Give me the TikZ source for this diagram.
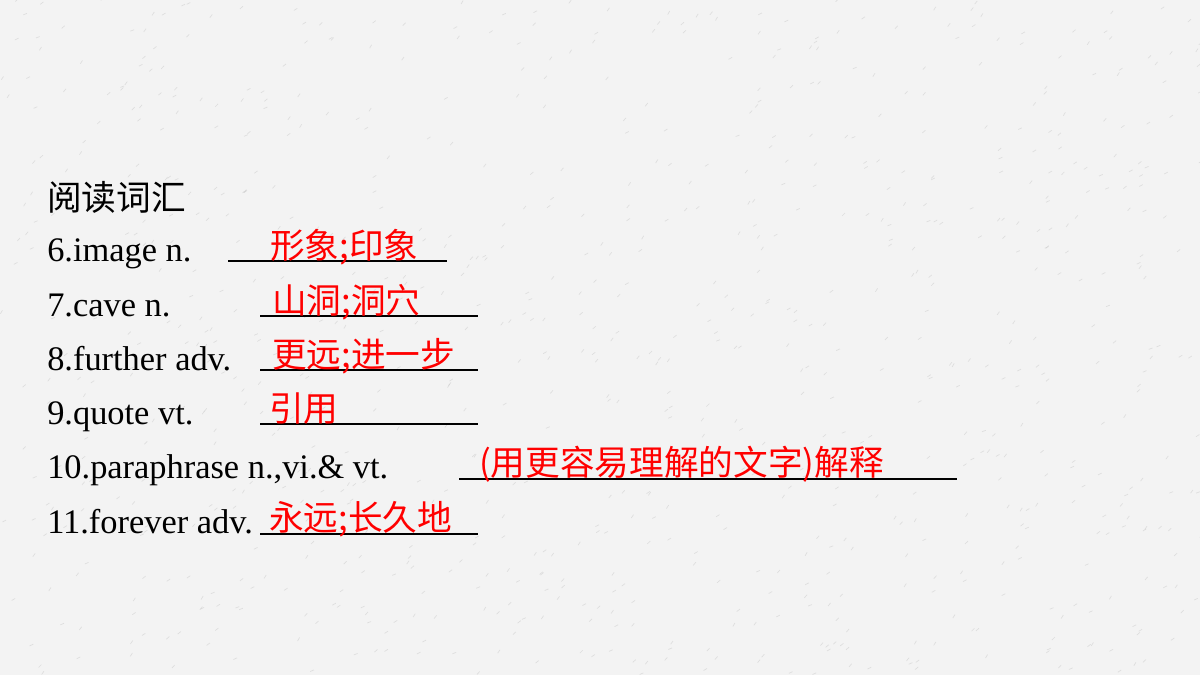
\documentclass[tikz,border=0pt]{standalone}
\usepackage{fontspec}
\setmainfont{Liberation Serif}
\newfontfamily\cjk{Noto Sans CJK SC}
\usetikzlibrary{positioning}

\definecolor{slidebg}{HTML}{F3F3F3}
\definecolor{speck}{HTML}{C8C8C8}
\definecolor{answer}{HTML}{FF0000}

\tikzset{
  word/.style={anchor=base west, inner sep=0pt, font=\fontsize{25.8}{30}\selectfont},
  ans/.style={anchor=base west, inner sep=0pt, text=answer, font=\fontsize{26}{30}\selectfont\cjk},
  blank/.style={line width=1.5pt}
}

\begin{document}
\begin{tikzpicture}[x=0.75pt, y=-0.75pt]
    \fill [slidebg] (0, 0) rectangle (1200, 675);
    \useasboundingbox (0, 0) rectangle (1200, 675);

    % paper texture
    \pgfmathsetseed{17}
    \foreach \i in {1,...,900} {
      \pgfmathsetmacro{\px}{rnd*1200}
      \pgfmathsetmacro{\py}{rnd*675}
      \pgfmathsetmacro{\pa}{-20-rnd*40}
      \draw [speck, line width=0.5pt, opacity=0.5] (\px, \py) -- ++(\pa:4);
    }

    \node [word, font=\fontsize{26}{30}\selectfont\cjk] (head) at (47, 210) {阅读词汇};

    \node [word] (w6) at (47, 261) {6.image n.};
    \node [word] (w7) at (47, 316) {7.cave n.};
    \node [word] (w8) at (47, 370) {8.further adv.};
    \node [word] (w9) at (47, 424) {9.quote vt.};
    \node [word] (w10) at (47, 478) {10.paraphrase n.,vi.\& vt.};
    \node [word] (w11) at (47, 533) {11.forever adv.};

    % blanks
    \coordinate (b6a) at (228, 261);  \coordinate (b6b) at (447, 261);
    \coordinate (b7a) at (260, 316);  \coordinate (b7b) at (478, 316);
    \coordinate (b8a) at (260, 370);  \coordinate (b8b) at (478, 370);
    \coordinate (b9a) at (260, 424);  \coordinate (b9b) at (478, 424);
    \coordinate (b10a) at (459, 479); \coordinate (b10b) at (957, 479);
    \coordinate (b11a) at (260, 534); \coordinate (b11b) at (478, 534);
    \foreach \n in {6,...,11}
      \draw [blank] (b\n a) -- (b\n b);

    \node [ans] (a6) at (270, 258) {形象;印象};
    \node [ans] (a7) at (272, 313) {山洞;洞穴};
    \node [ans] (a8) at (272, 367) {更远;进一步};
    \node [ans] (a9) at (269, 421) {引用};
    \node [ans] (a10) at (479, 475) {(用更容易理解的文字)解释};
    \node [ans] (a11) at (269, 530) {永远;长久地};
\end{tikzpicture}
\end{document}
